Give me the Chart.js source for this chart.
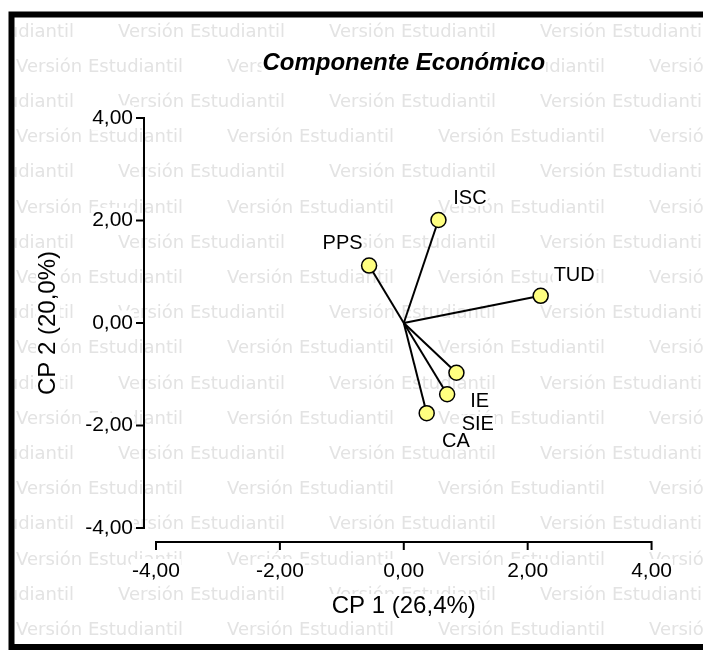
<!DOCTYPE html>
<html><head><meta charset="utf-8">
<script src="https://cdn.jsdelivr.net/npm/chart.js@4.4.1/dist/chart.umd.min.js"></script>
<style>html,body{margin:0;padding:0;background:#fff;} #wrap{width:703px;height:650px;position:relative;}</style>
</head><body><div id="wrap"><canvas id="c"></canvas></div>
<script>
// ---- data ----
const variables = ['ISC', 'PPS', 'TUD', 'IE', 'SIE', 'CA'];
const cp1 = [0.56, -0.56, 2.21, 0.85, 0.70, 0.37];
const cp2 = [2.01, 1.12, 0.53, -0.97, -1.39, -1.76];
const axisTicks = [-4, -2, 0, 2, 4];
const tickLabels = ['-4,00', '-2,00', '0,00', '2,00', '4,00'];
const titleText = 'Componente Económico';
const xTitle = 'CP 1 (26,4%)';
const yTitle = 'CP 2 (20,0%)';
const watermarkText = 'Versión Estudiantil';
// label placement offsets (px) relative to each point
const labelDx = [31.5, -26.5, 33.5, 23.3, 30.7, 29.3];
const labelDy = [-23, -23, -21.5, 27.8, 29, 27.5];

const FONT = "'Liberation Sans', Arial, sans-serif";
const TITLE_SIZE = 24, AXT_SIZE = 24;
const X_TITLE_PB = 32, Y_TITLE_PT = 36;

const datasets = variables.map((v, i) => ({
  label: v,
  data: [{x: 0, y: 0}, {x: cp1[i], y: cp2[i]}],
  showLine: true,
  borderColor: '#000',
  borderWidth: 2,
  pointRadius: [0, 7.5],
  pointHoverRadius: [0, 7.5],
  pointBackgroundColor: '#ffff80',
  pointBorderColor: '#000',
  pointBorderWidth: 1.5,
  clip: false
}));

function tickCb(v) { const i = axisTicks.indexOf(v); return i >= 0 ? tickLabels[i] : ''; }

const decor = {
  id: 'decor',
  beforeDraw(chart) {
    const ctx = chart.ctx, W = chart.width, H = chart.height;
    ctx.save();
    ctx.fillStyle = '#fff';
    ctx.fillRect(0, 0, W, H);
    // watermark
    ctx.save();
    ctx.beginPath();
    ctx.rect(14.5, 17.5, W, 644 - 17.5);
    ctx.clip();
    ctx.font = "18px 'DejaVu Sans'";
    ctx.fillStyle = '#e3e3e3';
    ctx.textBaseline = 'middle';
    ctx.textAlign = 'left';
    for (let k = 0; k < 18; k++) {
      const y = 32 + 35.2 * k;
      const x0 = (k % 2 === 0) ? 118 : 16;
      for (let j = -1; j < 5; j++) ctx.fillText(watermarkText, x0 + 211 * j, y);
    }
    ctx.restore();
    // frame
    ctx.strokeStyle = '#000';
    ctx.lineWidth = 6;
    ctx.strokeRect(11.5, 14.5, 720, 632.5);
    // backdrops for title and axis titles
    ctx.fillStyle = '#fff';
    const tb = chart.titleBlock;
    if (tb) {
      ctx.font = `italic bold ${TITLE_SIZE}px ${FONT}`;
      const w = ctx.measureText(titleText).width;
      const cx = (tb.left + tb.right) / 2;
      const cy = tb.top + tb.options.padding.top + TITLE_SIZE / 2;
      ctx.fillRect(cx - w / 2 - 1, cy - TITLE_SIZE / 2, w + 2, TITLE_SIZE);
    }
    ctx.font = `${AXT_SIZE}px ${FONT}`;
    const xs = chart.scales.x, ys = chart.scales.y;
    let w = ctx.measureText(xTitle).width;
    let cx = (xs.left + xs.right) / 2, cy = xs.bottom - AXT_SIZE / 2 - X_TITLE_PB;
    ctx.fillRect(cx - w / 2 - 1, cy - AXT_SIZE / 2, w + 2, AXT_SIZE);
    w = ctx.measureText(yTitle).width;
    cx = ys.left + Y_TITLE_PT + AXT_SIZE / 2; cy = (ys.top + ys.bottom) / 2;
    ctx.fillRect(cx - AXT_SIZE / 2, cy - w / 2 - 1, AXT_SIZE, w + 2);
    ctx.restore();
  },
  beforeDatasetsDraw(chart) {
    const ctx = chart.ctx, xs = chart.scales.x, ys = chart.scales.y, ca = chart.chartArea;
    ctx.save();
    ctx.strokeStyle = '#000';
    ctx.lineWidth = 2;
    ctx.lineCap = 'butt';
    // y axis (detached)
    const ax = ca.left - 12;
    ctx.beginPath();
    ctx.moveTo(ax, ys.getPixelForValue(axisTicks[axisTicks.length - 1]) - 1);
    ctx.lineTo(ax, ys.getPixelForValue(axisTicks[0]) + 1);
    axisTicks.forEach(v => { const p = ys.getPixelForValue(v); ctx.moveTo(ax, p); ctx.lineTo(ax - 8, p); });
    ctx.stroke();
    // x axis (detached)
    const ay = ca.bottom + 14;
    ctx.beginPath();
    ctx.moveTo(xs.getPixelForValue(axisTicks[0]) - 1, ay);
    ctx.lineTo(xs.getPixelForValue(axisTicks[axisTicks.length - 1]) + 1, ay);
    axisTicks.forEach(v => { const p = xs.getPixelForValue(v); ctx.moveTo(p, ay); ctx.lineTo(p, ay + 8); });
    ctx.stroke();
    ctx.restore();
  },
  afterDatasetsDraw(chart) {
    const ctx = chart.ctx, xs = chart.scales.x, ys = chart.scales.y;
    ctx.save();
    ctx.font = `20px ${FONT}`;
    ctx.textAlign = 'center';
    ctx.textBaseline = 'middle';
    variables.forEach((v, i) => {
      const px = xs.getPixelForValue(cp1[i]) + labelDx[i];
      const py = ys.getPixelForValue(cp2[i]) + labelDy[i];
      const w = ctx.measureText(v).width;
      ctx.fillStyle = '#fff';
      ctx.fillRect(px - w / 2 - 1, py - 8, w + 2, 17);
      ctx.fillStyle = '#000';
      ctx.fillText(v, px, py + 1);
    });
    ctx.restore();
  }
};

new Chart(document.getElementById('c'), {
  type: 'scatter',
  data: {datasets},
  options: {
    responsive: true,
    maintainAspectRatio: false,
    animation: false,
    events: [],
    layout: {padding: {left: 0, right: 51, top: 0, bottom: 0}},
    plugins: {
      legend: {display: false},
      tooltip: {enabled: false},
      title: {
        display: true, text: titleText, fullSize: false, color: '#000',
        font: {family: FONT, size: TITLE_SIZE, weight: 'bold', style: 'italic', lineHeight: 1},
        padding: {top: 51.5, bottom: 42.5}
      }
    },
    scales: {
      x: {
        type: 'linear', min: -4, max: 4,
        afterBuildTicks: s => { s.ticks = axisTicks.map(v => ({value: v})); },
        afterFit: s => { s.height = 122; },
        grid: {display: false, drawTicks: false},
        border: {display: false},
        ticks: {callback: tickCb, color: '#000', font: {family: FONT, size: 21}, padding: 31,
                maxRotation: 0, autoSkip: false, showLabelBackdrop: true, backdropColor: '#fff', backdropPadding: {x: 1, y: 0}},
        title: {display: true, text: xTitle, color: '#000', font: {family: FONT, size: AXT_SIZE, lineHeight: 1},
                padding: {top: 0, bottom: X_TITLE_PB}}
      },
      y: {
        type: 'linear', min: -4, max: 4,
        afterBuildTicks: s => { s.ticks = axisTicks.map(v => ({value: v})); },
        afterFit: s => { s.width = 156; },
        grid: {display: false, drawTicks: false},
        border: {display: false},
        ticks: {callback: tickCb, color: '#000', font: {family: FONT, size: 21}, padding: 23,
                autoSkip: false, showLabelBackdrop: true, backdropColor: '#fff', backdropPadding: {x: 1, y: 0}},
        title: {display: true, text: yTitle, color: '#000', font: {family: FONT, size: AXT_SIZE, lineHeight: 1},
                padding: {top: Y_TITLE_PT, bottom: 0}}
      }
    }
  },
  plugins: [decor]
});
</script>
</body></html>
